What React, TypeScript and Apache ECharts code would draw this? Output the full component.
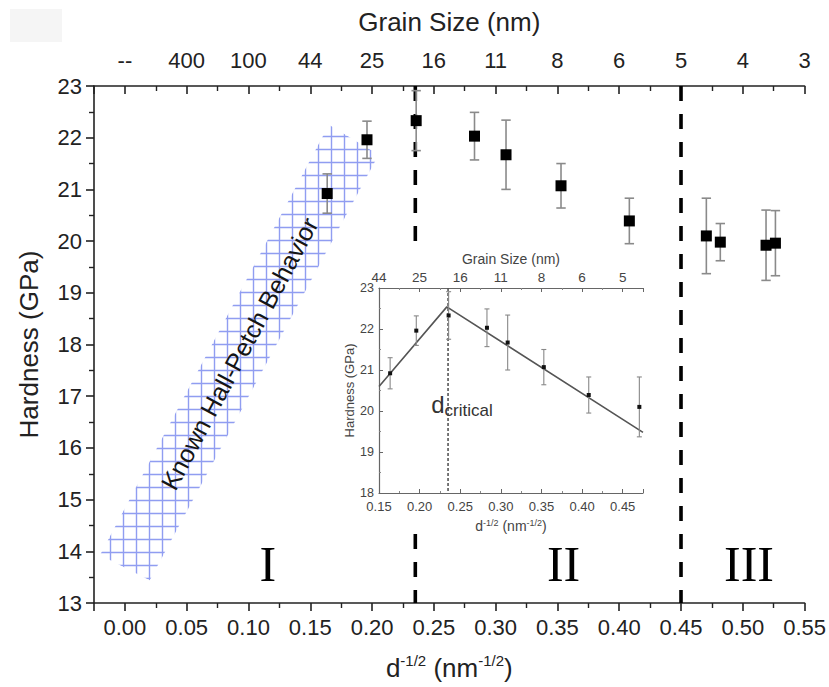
import React, { useEffect, useRef } from 'react';
import * as echarts from 'echarts';

// ---------- data ----------
const grainTopLabels = ['--', '400', '100', '44', '25', '16', '11', '8', '6', '5', '4', '3'];
const insetGrainLabels = ['44', '25', '16', '11', '8', '6', '5'];

const hardnessX = [0.1637, 0.1959, 0.2357, 0.2829, 0.3084, 0.3529, 0.4082, 0.4705, 0.4818, 0.5188, 0.5264];
const hardnessY = [20.92, 21.96, 22.33, 22.03, 21.67, 21.07, 20.39, 20.1, 19.98, 19.92, 19.96];
const hardnessErr = [0.38, 0.36, 0.58, 0.46, 0.67, 0.43, 0.44, 0.73, 0.36, 0.68, 0.63];
const insetCount = 8;

const fitX = [0.15, 0.2335, 0.475];
const fitY = [20.6, 22.54, 19.48];

const regimeBoundaries = [0.235, 0.45];
const dCritical = 0.235;

const bandX = [-0.0201, 0.0201, 0.2053, 0.1651];
const bandY = [13.93, 13.44, 21.67, 22.25];
const bandLabel = 'Known Hall-Petch Behavior';

const regimeNames = ['I', 'II', 'III'];
const regimeX = [0.1156, 0.355, 0.505];
const regimeY = [13.75, 13.75, 13.75];

const dCritLabelPos = [0.2137, 20.15];

// ---------- layout ----------
const F = "'Liberation Sans', Arial, sans-serif";
const MAIN = { left: 94, top: 86, width: 714, height: 517 };
const INSET = { left: 379, top: 288, width: 264, height: 205 };

const isStep = (v: number, step: number, base = 0) => {
  const k = (v - base) / step;
  return Math.abs(k - Math.round(k)) < 1e-6;
};

function makeHatch() {
  const s = 13;
  const c = document.createElement('canvas');
  c.width = s;
  c.height = s;
  const ctx = c.getContext('2d')!;
  ctx.strokeStyle = 'rgba(125,140,238,0.85)';
  ctx.lineWidth = 1.4;
  ctx.beginPath();
  ctx.moveTo(0, s / 2);
  ctx.lineTo(s, s / 2);
  ctx.moveTo(s / 2, 0);
  ctx.lineTo(s / 2, s);
  ctx.stroke();
  return { image: c, repeat: 'repeat', imageWidth: s, imageHeight: s };
}

const errRender = (capHalf: number, color: string, width: number) => (params: any, api: any) => {
  const x = api.value(0);
  const lo = api.value(1);
  const hi = api.value(2);
  const a = api.coord([x, lo]);
  const b = api.coord([x, hi]);
  const st = { stroke: color, lineWidth: width, fill: null };
  return {
    type: 'group',
    children: [
      { type: 'line', shape: { x1: a[0], y1: a[1], x2: b[0], y2: b[1] }, style: st },
      { type: 'line', shape: { x1: a[0] - capHalf, y1: a[1], x2: a[0] + capHalf, y2: a[1] }, style: st },
      { type: 'line', shape: { x1: b[0] - capHalf, y1: b[1], x2: b[0] + capHalf, y2: b[1] }, style: st },
    ],
  };
};

function buildOption(): any {
  const hatch = makeHatch();
  const mainAxisLine = { show: true, onZero: false, lineStyle: { color: '#222', width: 1.6 } };
  const insetAxisLine = { show: true, onZero: false, lineStyle: { color: '#666', width: 1.2 } };

  const xName = '{a|d}{s|-1/2}{a| (nm}{s|-1/2}{a|)}';

  const errMain = hardnessX.map((x, i) => [x, hardnessY[i] - hardnessErr[i], hardnessY[i] + hardnessErr[i]]);
  const errInset = errMain.slice(0, insetCount);

  return {
    animation: false,
    backgroundColor: '#ffffff',
    grid: [
      { ...MAIN, show: false },
      { ...INSET, show: false },
    ],
    xAxis: [
      {
        gridIndex: 0,
        type: 'value',
        position: 'bottom',
        min: -0.025,
        max: 0.55,
        minInterval: 0.05,
        maxInterval: 0.05,
        splitNumber: 11,
        axisLine: mainAxisLine,
        axisTick: { show: true, inside: false, length: 8, lineStyle: { color: '#222', width: 1.6 } },
        minorTick: { show: true, splitNumber: 2, length: 5, lineStyle: { color: '#222', width: 1.4 } },
        splitLine: { show: false },
        axisLabel: {
          fontFamily: F,
          fontSize: 22,
          color: '#222',
          margin: 13,
          formatter: (v: number) => (isStep(v, 0.05) ? Math.abs(v).toFixed(2) : ''),
        },
        name: xName,
        nameLocation: 'middle',
        nameGap: 50,
        nameTextStyle: {
          rich: {
            a: { fontFamily: F, fontSize: 26, color: '#222', lineHeight: 30 },
            s: { fontFamily: F, fontSize: 15, color: '#222', verticalAlign: 'top', lineHeight: 15 },
          },
        },
      },
      {
        gridIndex: 0,
        type: 'value',
        position: 'top',
        min: -0.025,
        max: 0.55,
        minInterval: 0.05,
        maxInterval: 0.05,
        splitNumber: 11,
        axisLine: mainAxisLine,
        axisTick: { show: true, inside: true, length: 8, lineStyle: { color: '#222', width: 1.6 } },
        minorTick: { show: true, splitNumber: 2, length: 5, lineStyle: { color: '#222', width: 1.4 } },
        splitLine: { show: false },
        axisLabel: {
          fontFamily: F,
          fontSize: 22,
          color: '#222',
          margin: 15,
          formatter: (v: number) => {
            if (!isStep(v, 0.05)) return '';
            return grainTopLabels[Math.round(v / 0.05)] ?? '';
          },
        },
        name: 'Grain Size (nm)',
        nameLocation: 'middle',
        nameGap: 51,
        nameTextStyle: { fontFamily: F, fontSize: 26, color: '#222' },
      },
      {
        gridIndex: 1,
        type: 'value',
        position: 'bottom',
        min: 0.15,
        max: 0.475,
        minInterval: 0.05,
        maxInterval: 0.05,
        splitNumber: 7,
        z: 10,
        axisLine: insetAxisLine,
        axisTick: { show: true, inside: true, length: 4, lineStyle: { color: '#666' } },
        minorTick: { show: true, splitNumber: 2, length: 2, lineStyle: { color: '#888' } },
        splitLine: { show: false },
        axisLabel: {
          fontFamily: F,
          fontSize: 13,
          color: '#444',
          margin: 7,
          formatter: (v: number) => (isStep(v, 0.05) ? v.toFixed(2) : ''),
        },
        name: xName,
        nameLocation: 'middle',
        nameGap: 25,
        nameTextStyle: {
          rich: {
            a: { fontFamily: F, fontSize: 14, color: '#444', lineHeight: 16 },
            s: { fontFamily: F, fontSize: 9, color: '#444', verticalAlign: 'top', lineHeight: 9 },
          },
        },
      },
      {
        gridIndex: 1,
        type: 'value',
        position: 'top',
        min: 0.15,
        max: 0.475,
        minInterval: 0.05,
        maxInterval: 0.05,
        splitNumber: 7,
        z: 10,
        axisLine: insetAxisLine,
        axisTick: { show: true, inside: true, length: 4, lineStyle: { color: '#666' } },
        minorTick: { show: true, splitNumber: 2, length: 2, lineStyle: { color: '#888' } },
        splitLine: { show: false },
        axisLabel: {
          fontFamily: F,
          fontSize: 13.5,
          color: '#444',
          margin: 4,
          formatter: (v: number) => {
            if (!isStep(v, 0.05, 0.15)) return '';
            return insetGrainLabels[Math.round((v - 0.15) / 0.05)] ?? '';
          },
        },
        name: 'Grain Size (nm)',
        nameLocation: 'middle',
        nameGap: 22,
        nameTextStyle: { fontFamily: F, fontSize: 14, color: '#444' },
      },
    ],
    yAxis: [
      {
        gridIndex: 0,
        type: 'value',
        min: 13,
        max: 23,
        interval: 1,
        axisLine: mainAxisLine,
        axisTick: { show: true, inside: false, length: 8, lineStyle: { color: '#222', width: 1.6 } },
        minorTick: { show: true, splitNumber: 2, length: 5, lineStyle: { color: '#222', width: 1.4 } },
        splitLine: { show: false },
        axisLabel: { fontFamily: F, fontSize: 22, color: '#222', margin: 12 },
        name: 'Hardness (GPa)',
        nameLocation: 'middle',
        nameGap: 52,
        nameTextStyle: { fontFamily: F, fontSize: 26, color: '#222' },
      },
      {
        gridIndex: 1,
        type: 'value',
        min: 18,
        max: 23,
        interval: 1,
        z: 10,
        axisLine: insetAxisLine,
        axisTick: { show: true, inside: true, length: 4, lineStyle: { color: '#666' } },
        minorTick: { show: true, splitNumber: 2, length: 2, lineStyle: { color: '#888' } },
        splitLine: { show: false },
        axisLabel: { fontFamily: F, fontSize: 12.5, color: '#444', margin: 5 },
        name: 'Hardness (GPa)',
        nameLocation: 'middle',
        nameGap: 22,
        nameTextStyle: { fontFamily: F, fontSize: 13, color: '#444' },
      },
    ],
    graphic: [
      { type: 'rect', z: 0, shape: { x: 10, y: 9, width: 52, height: 33 }, style: { fill: '#f5f5f5' } },
      {
        type: 'rect',
        z: 5,
        shape: { x: INSET.left - 28, y: INSET.top - 39, width: INSET.width + 40, height: INSET.height + 74 },
        style: { fill: '#ffffff' },
      },
    ],
    series: [
      {
        type: 'custom',
        name: 'band',
        xAxisIndex: 0,
        yAxisIndex: 0,
        z: 1,
        silent: true,
        data: [[bandX[0], bandY[0]]],
        encode: { x: 0, y: 1 },
        renderItem: (params: any, api: any) => {
          const pts = bandX.map((x, i) => api.coord([x, bandY[i]]));
          const cx = pts.reduce((s: number, p: number[]) => s + p[0], 0) / pts.length;
          const cy = pts.reduce((s: number, p: number[]) => s + p[1], 0) / pts.length;
          const dx = (pts[2][0] + pts[3][0]) / 2 - (pts[0][0] + pts[1][0]) / 2;
          const dy = (pts[2][1] + pts[3][1]) / 2 - (pts[0][1] + pts[1][1]) / 2;
          const rot = Math.atan2(-dy, dx);
          return {
            type: 'group',
            children: [
              { type: 'polygon', shape: { points: pts }, style: { fill: hatch, stroke: null } },
              {
                type: 'text',
                x: cx,
                y: cy,
                rotation: rot,
                style: {
                  text: bandLabel,
                  fontFamily: F,
                  fontSize: 25,
                  fill: '#151515',
                  align: 'center',
                  verticalAlign: 'middle',
                },
              },
            ],
          };
        },
      },
      ...regimeBoundaries.map((b) => ({
        type: 'line',
        xAxisIndex: 0,
        yAxisIndex: 0,
        z: 1,
        silent: true,
        symbol: 'none',
        data: [
          [b, 23],
          [b, 13],
        ],
        lineStyle: { color: '#000', width: 3.6, type: [15, 13] },
      })),
      {
        type: 'custom',
        name: 'errMain',
        xAxisIndex: 0,
        yAxisIndex: 0,
        z: 2,
        data: errMain,
        encode: { x: 0, y: [1, 2] },
        renderItem: errRender(4.7, '#8a8a8a', 1.6),
      },
      {
        type: 'scatter',
        xAxisIndex: 0,
        yAxisIndex: 0,
        z: 3,
        symbol: 'rect',
        symbolSize: 11,
        itemStyle: { color: '#000', opacity: 1 },
        data: hardnessX.map((x, i) => [x, hardnessY[i]]),
      },
      {
        type: 'scatter',
        xAxisIndex: 0,
        yAxisIndex: 0,
        z: 3,
        symbolSize: 1,
        itemStyle: { color: 'rgba(0,0,0,0)', opacity: 1 },
        silent: true,
        data: regimeNames.map((n, i) => ({ name: n, value: [regimeX[i], regimeY[i]] })),
        label: {
          show: true,
          position: 'inside',
          formatter: '{b}',
          fontFamily: "'Liberation Serif', 'Times New Roman', serif",
          fontSize: 50,
          color: '#000',
        },
      },
      // inset
      {
        type: 'line',
        xAxisIndex: 2,
        yAxisIndex: 1,
        z: 11,
        symbol: 'none',
        silent: true,
        data: [
          [dCritical, 23],
          [dCritical, 18],
        ],
        lineStyle: { color: '#555', width: 1.6, type: [3, 2] },
      },
      {
        type: 'line',
        xAxisIndex: 2,
        yAxisIndex: 1,
        z: 11,
        symbol: 'none',
        silent: true,
        data: fitX.map((x, i) => [x, fitY[i]]),
        lineStyle: { color: '#555', width: 1.6 },
      },
      {
        type: 'custom',
        xAxisIndex: 2,
        yAxisIndex: 1,
        z: 12,
        data: errInset,
        encode: { x: 0, y: [1, 2] },
        renderItem: errRender(2.5, '#888', 1.1),
      },
      {
        type: 'scatter',
        xAxisIndex: 2,
        yAxisIndex: 1,
        z: 13,
        symbol: 'rect',
        symbolSize: 4,
        itemStyle: { color: '#111', opacity: 1 },
        data: hardnessX.slice(0, insetCount).map((x, i) => [x, hardnessY[i]]),
      },
      {
        type: 'scatter',
        xAxisIndex: 2,
        yAxisIndex: 1,
        z: 13,
        symbolSize: 1,
        silent: true,
        itemStyle: { color: 'rgba(0,0,0,0)', opacity: 1 },
        data: [{ name: 'dcrit', value: dCritLabelPos }],
        label: {
          show: true,
          position: 'right',
          distance: 0,
          formatter: '{d|d}{s|critical}',
          rich: {
            d: { fontFamily: F, fontSize: 24, color: '#333', lineHeight: 28 },
            s: { fontFamily: F, fontSize: 17, color: '#333', verticalAlign: 'bottom', lineHeight: 16 },
          },
        },
      },
    ],
  };
}

export default function App() {
  const ref = useRef<HTMLDivElement>(null);
  useEffect(() => {
    if (!ref.current) return;
    const chart = echarts.init(ref.current, null, { renderer: 'svg' });
    chart.setOption(buildOption());
    return () => chart.dispose();
  }, []);
  return (
    <div
      ref={ref}
      style={{ position: 'fixed', left: 0, top: 0, width: 829, height: 687, background: '#fff' }}
    />
  );
}
